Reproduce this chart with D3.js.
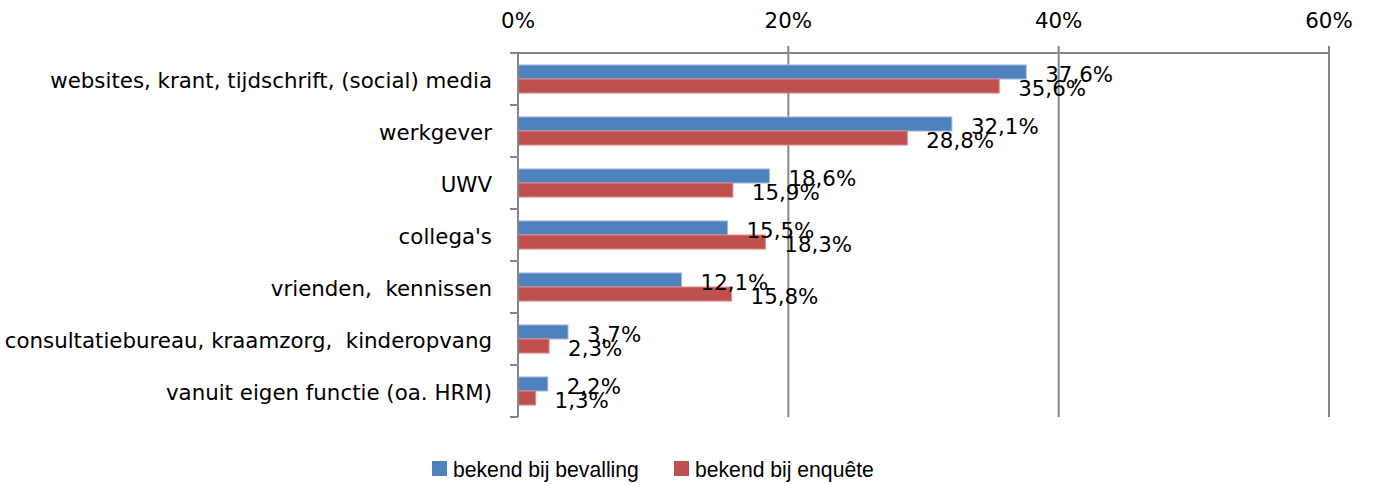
<!DOCTYPE html>
<html><head><meta charset="utf-8">
<script src="https://cdn.jsdelivr.net/npm/d3@7"></script>
<style>body{margin:0;background:#fff}svg{display:block}text{font-family:"DejaVu Sans",sans-serif;fill:#000}text.leg{font-family:"Liberation Sans",Arial,sans-serif}</style>
</head><body><svg id="c" width="1374" height="485"></svg>
<script>
const categories = ["websites, krant, tijdschrift, (social) media","werkgever","UWV","collega's","vrienden,  kennissen","consultatiebureau, kraamzorg,  kinderopvang","vanuit eigen functie (oa. HRM)"];
const seriesNames = ["bekend bij bevalling","bekend bij enquête"];
const bevalling = [37.6,32.1,18.6,15.5,12.1,3.7,2.2];
const enquete = [35.6,28.8,15.9,18.3,15.8,2.3,1.3];
const ticks = [0,20,40,60];
const colors = ["#4F81BD","#C0504D"];

const svg = d3.select("#c");
const x = d3.scaleLinear().domain([0,60]).range([518,1329]);
const y = d3.scaleBand().domain(categories).range([53,417]).paddingInner(0.46).paddingOuter(0.23);
const grid = "#868686";

function measure(t, size, cls){
  const p = svg.append("text").attr("class",cls||null).style("font-size",size+"px").attr("xml:space","preserve").text(t);
  const w = p.node().getComputedTextLength(); p.remove(); return w;
}
const fs = 20 * 442 / measure(categories[0],20);
const lfs = 20 * 186 / measure(seriesNames[0],20,"leg");

svg.append("g").selectAll("line").data(ticks.slice(1)).join("line")
  .attr("x1",d=>x(d)).attr("x2",d=>x(d)).attr("y1",46).attr("y2",417)
  .attr("stroke",grid).attr("stroke-width",2);
svg.append("line").attr("x1",510).attr("x2",x(60)).attr("y1",53).attr("y2",53).attr("stroke",grid).attr("stroke-width",2);
svg.append("g").selectAll("text").data(ticks).join("text")
  .attr("x",d=>x(d)).attr("y",28).attr("text-anchor","middle").style("font-size",fs+"px")
  .text(d=>d+"%");

const sub = d3.scaleBand().domain([0,1]).range([0,y.bandwidth()]);
const data = categories.map((c,i)=>({c, v:[bevalling[i],enquete[i]]}));
const g = svg.append("g");
data.forEach(d=>{
  d.v.forEach((v,j)=>{
    g.append("rect").attr("x",x(0)).attr("y",y(d.c)+sub(j)).attr("width",x(v)-x(0)).attr("height",sub.bandwidth())
      .attr("fill",colors[j]).attr("stroke",j===0?"#9db8dc":"#d98a88").attr("stroke-width",1);
  });
});
svg.append("line").attr("x1",x(0)).attr("x2",x(0)).attr("y1",53).attr("y2",417).attr("stroke",grid).attr("stroke-width",2);
const bounds = d3.range(categories.length+1).map(i=>53+i*(364/7));
svg.append("g").selectAll("line").data(bounds).join("line")
  .attr("x1",510).attr("x2",x(0)).attr("y1",d=>d).attr("y2",d=>d).attr("stroke",grid).attr("stroke-width",2);

data.forEach(d=>{
  d.v.forEach((v,j)=>{
    svg.append("text").attr("x",x(v)+19).attr("y",y(d.c)+sub(j)+sub.bandwidth()/2+3)
      .attr("dy","0.35em").style("font-size",fs+"px").text(v.toFixed(1).replace(".",",")+"%");
  });
});
svg.append("g").selectAll("text").data(categories).join("text")
  .attr("x",492).attr("y",d=>y(d)+y.bandwidth()/2+2).attr("dy","0.35em").attr("text-anchor","end")
  .style("font-size",fs+"px").attr("xml:space","preserve").text(d=>d);

const lx = [432,674];
seriesNames.forEach((n,i)=>{
  svg.append("rect").attr("x",lx[i]).attr("y",461).attr("width",15).attr("height",15).attr("fill",colors[i]);
  svg.append("text").attr("class","leg").attr("x",lx[i]+21).attr("y",477).style("font-size",lfs+"px").text(n);
});
</script></body></html>
